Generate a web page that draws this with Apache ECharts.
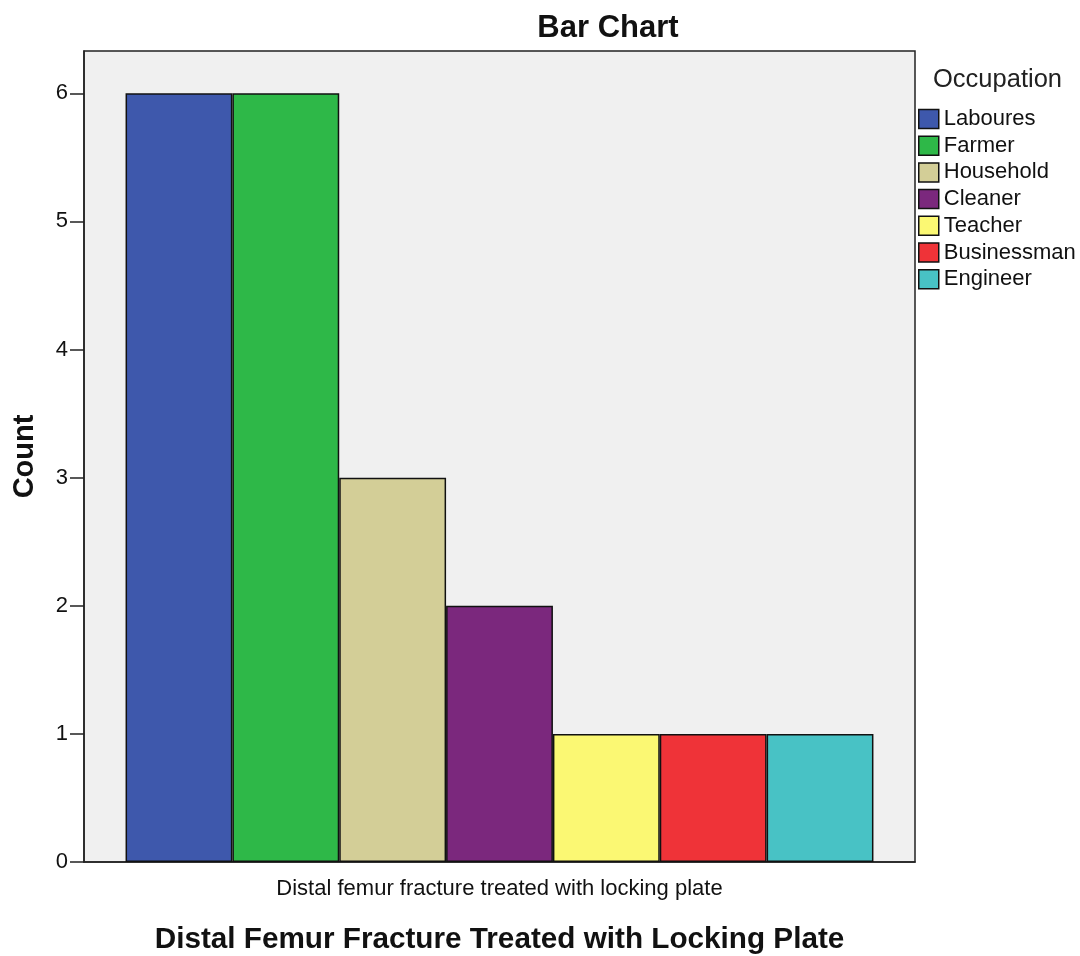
<!DOCTYPE html>
<html>
<head>
<meta charset="utf-8">
<script src="https://cdn.jsdelivr.net/npm/echarts@6/dist/echarts.min.js"></script>
<style>
  html, body { margin: 0; padding: 0; background: #fff; }
  #chart { width: 1080px; height: 956px; }
</style>
</head>
<body>
<div id="chart"></div>
<script>
// Occupation counts for the single fracture group
const categories = ['Distal femur fracture treated with locking plate'];
const occupations = ['Laboures', 'Farmer', 'Household', 'Cleaner', 'Teacher', 'Businessman', 'Engineer'];
const counts = [6, 6, 3, 2, 1, 1, 1];
const colors = ['#3E58AC', '#2EB848', '#D3CE97', '#7B287D', '#FBF873', '#EF3338', '#48C2C5'];
const yTicks = [0, 1, 2, 3, 4, 5, 6];

const font = '"Liberation Sans", Arial, sans-serif';

const series = occupations.map((name, i) => ({
  name: name,
  type: 'bar',
  data: [counts[i]],
  barGap: '0%',
  barCategoryGap: '10%',
  itemStyle: { color: colors[i], borderColor: '#111', borderWidth: 1.5 },
  emphasis: { disabled: true }
}));

const chart = echarts.init(document.getElementById('chart'), null, { renderer: 'canvas' });
chart.setOption({
  animation: false,
  backgroundColor: '#fff',
  title: [
    { text: 'Bar Chart', left: 603, top: 8, textAlign: 'center',
      textStyle: { fontFamily: font, fontSize: 31, fontWeight: 'bold', color: '#111' } },
    { text: 'Occupation', left: 928, top: 62,
      textStyle: { fontFamily: font, fontSize: 25.5, fontWeight: 'normal', color: '#222' } }
  ],
  legend: {
    orient: 'vertical',
    left: 918,
    top: 108,
    padding: 0,
    itemWidth: 20,
    itemHeight: 19,
    itemGap: 4.7,
    icon: 'rect',
    selectedMode: false,
    itemStyle: { borderColor: '#111', borderWidth: 1.5 },
    textStyle: { fontFamily: font, fontSize: 22, lineHeight: 19, color: '#111' },
    data: occupations
  },
  grid: {
    left: 84, right: 165, top: 51, bottom: 94,
    outerBoundsMode: 'none',
    show: true, borderColor: '#222', borderWidth: 1.5, backgroundColor: '#F0F0F0'
  },
  xAxis: {
    type: 'category',
    data: categories,
    name: 'Distal Femur Fracture Treated with Locking Plate',
    nameLocation: 'middle',
    nameGap: 63,
    nameTextStyle: { fontFamily: font, fontSize: 29.7, fontWeight: 'bold', color: '#111' },
    axisLine: { lineStyle: { color: '#222', width: 1.5 } },
    axisTick: { alignWithLabel: true, length: 13, lineStyle: { color: '#222', width: 1.5 } },
    axisLabel: { fontFamily: font, fontSize: 22, color: '#111', margin: 16 }
  },
  yAxis: {
    type: 'value',
    min: 0,
    max: 6.33,
    name: 'Count',
    nameLocation: 'middle',
    nameGap: 45,
    nameTextStyle: { fontFamily: font, fontSize: 29, fontWeight: 'bold', color: '#111' },
    axisLine: { show: true, lineStyle: { color: '#222', width: 1.5 } },
    axisTick: { show: true, length: 14, customValues: yTicks, lineStyle: { color: '#222', width: 1.5 } },
    axisLabel: { fontFamily: font, fontSize: 22, color: '#111', margin: 16, customValues: yTicks },
    splitLine: { show: false }
  },
  series: series
});
</script>
</body>
</html>
